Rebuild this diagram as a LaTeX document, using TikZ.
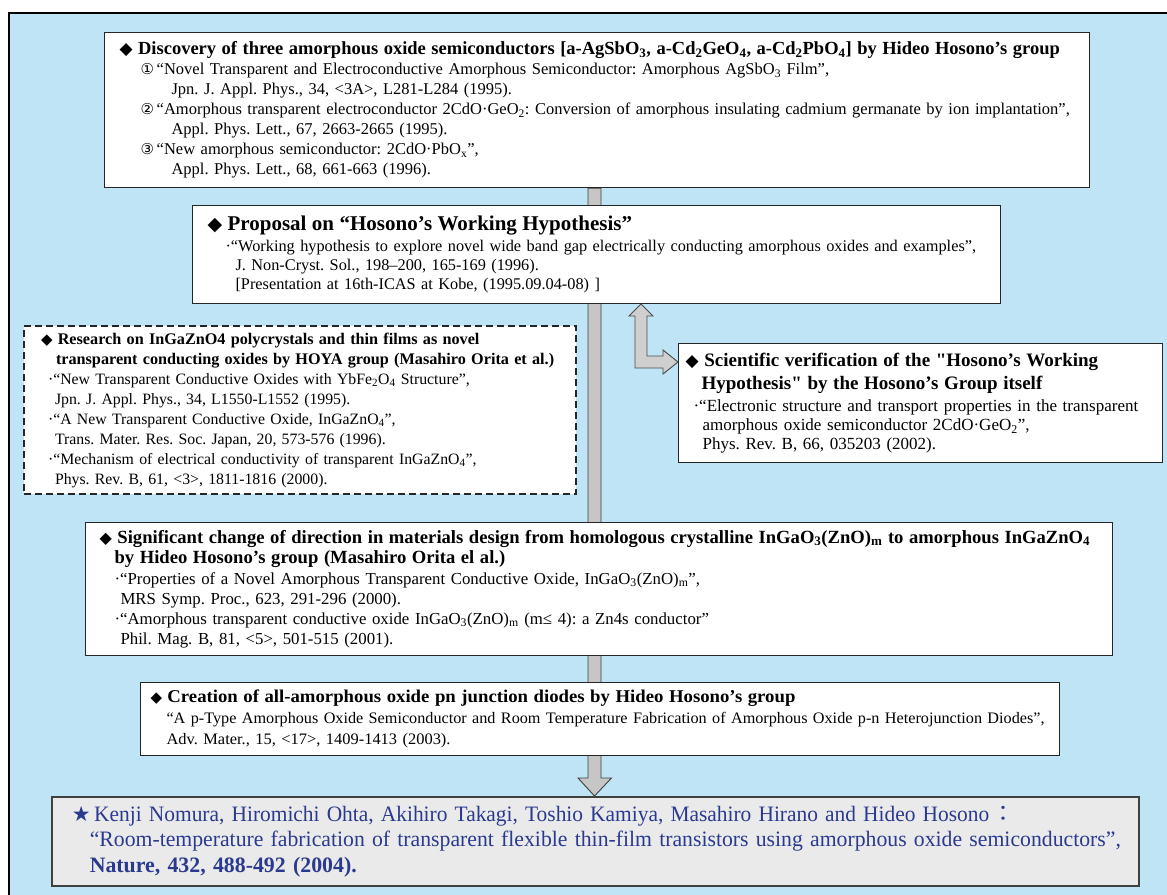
\documentclass[tikz,border=0pt]{standalone}
\usepackage{graphicx}
\usepackage{fontspec}
\setmainfont{Liberation Serif}
\newfontfamily\rawserif{Liberation Serif}[Ligatures=TeXOff]
\newfontfamily\symf{DejaVu Sans}
\newfontfamily\cjkf{Noto Sans CJK JP}
\usetikzlibrary{backgrounds,calc}
\definecolor{bgblue}{HTML}{BEE4F6}
\definecolor{bargray}{HTML}{C6C6C6}
\definecolor{navy}{HTML}{2A3A8F}
\definecolor{boxgray}{HTML}{EAEAEA}
\newcommand\sbs[1]{\textsubscript{#1}}
\newcommand\dm[1]{{\symf\fontsize{#1}{#1}\selectfont ◆}}
\newcommand\circn[1]{{\symf\fontsize{15}{15}\selectfont #1}}
\newcommand\fitw[2]{\resizebox{#1}{\height}{#2}}
\newcommand\sq{{\rawserif\bfseries "}}
\begin{document}
\frenchspacing
\begin{tikzpicture}[x=1pt,y=-1pt,
  card/.style={draw=black!85, line width=1.1pt, fill=white, anchor=north west, align=left, inner ysep=0pt},
  dashcard/.style={card, dash pattern=on 7pt off 4pt, line width=2pt},
  barsty/.style={fill=bargray, draw=black!75, line width=0.9pt},
  hollow/.style={fill=bargray!85, draw=black!70, line width=0.9pt, line join=miter}]
\useasboundingbox (0,0) rectangle (1167,894);

\node[card, minimum width=985pt, minimum height=155pt, text width=955pt, inner xsep=15pt, font=\fontsize{16.5}{20}\selectfont] (disc) at (104,32) {%
{\fontsize{18.5}{20}\selectfont\bfseries\dm{17} Discovery of three amorphous oxide semiconductors [a-AgSbO\sbs{3}, a-Cd\sbs{2}GeO\sbs{4}, a-Cd\sbs{2}PbO\sbs{4}] by Hideo Hosono’s group}\\
\hspace*{21pt}\circn{①}\,“Novel Transparent and Electroconductive Amorphous Semiconductor: Amorphous AgSbO\sbs{3} Film”,\\
\hspace*{52pt}Jpn. J. Appl. Phys., 34, <3A>, L281-L284 (1995).\\
\hspace*{21pt}\circn{②}\,“Amorphous transparent electroconductor 2CdO·GeO\sbs{2}: Conversion of amorphous insulating cadmium germanate by ion implantation”,\\
\hspace*{52pt}Appl. Phys. Lett., 67, 2663-2665 (1995).\\
\hspace*{21pt}\circn{③}\,“New amorphous semiconductor: 2CdO·PbO\sbs{x}”,\\
\hspace*{52pt}Appl. Phys. Lett., 68, 661-663 (1996).};

\node[card, minimum width=808pt, minimum height=98pt, text width=778pt, inner xsep=15pt, font=\fontsize{16.3}{19}\selectfont] (prop) at (192,205) {%
{\fontsize{21}{22}\selectfont\bfseries\dm{19} Proposal on “Hosono’s Working Hypothesis”}\\[2pt]
\hspace*{18pt}·“Working hypothesis to explore novel wide band gap electrically conducting amorphous oxides and examples”,\\
\hspace*{28pt}J. Non-Cryst. Sol., 198–200, 165-169 (1996).\\
\hspace*{28pt}[Presentation at 16th-ICAS at Kobe, (1995.09.04-08) ]};

\node[card, dashcard, minimum width=552pt, minimum height=168pt, text width=518pt, inner xsep=17pt, font=\fontsize{15.8}{20}\selectfont] (hoya) at (23,325) {%
{\bfseries\fontsize{16.2}{20}\selectfont\dm{15} Research on InGaZnO4 polycrystals and thin films as novel}\\
{\bfseries\fontsize{16.2}{20}\selectfont\hspace*{15pt}transparent conducting oxides by HOYA group (Masahiro Orita et al.)}\\
\hspace*{7pt}·“New Transparent Conductive Oxides with YbFe\sbs{2}O\sbs{4} Structure”,\\
\hspace*{14pt}Jpn. J. Appl. Phys., 34, L1550-L1552 (1995).\\
\hspace*{7pt}·“A New Transparent Conductive Oxide, InGaZnO\sbs{4}”,\\
\hspace*{14pt}Trans. Mater. Res. Soc. Japan, 20, 573-576 (1996).\\
\hspace*{7pt}·“Mechanism of electrical conductivity of transparent InGaZnO\sbs{4}”,\\
\hspace*{14pt}Phys. Rev. B, 61, <3>, 1811-1816 (2000).};

\node[card, minimum width=484pt, minimum height=119pt, text width=470pt, inner xsep=7pt, font=\fontsize{17}{19}\selectfont] (verif) at (678,343) {%
{\bfseries\fontsize{19}{23}\selectfont\dm{17} Scientific verification of the \sq Hosono’s Working}\\[4pt]
{\bfseries\fontsize{19}{23}\selectfont\hspace*{16pt}Hypothesis\sq{} by the Hosono’s Group itself}\\[3pt]
\hspace*{8pt}·“Electronic structure and transport properties in the transparent\\
\hspace*{17pt}amorphous oxide semiconductor 2CdO·GeO\sbs{2}”,\\
\hspace*{17pt}Phys. Rev. B, 66, 035203 (2002).};

\node[card, minimum width=1027pt, minimum height=133pt, text width=999pt, inner xsep=14pt, font=\fontsize{16.8}{20}\selectfont] (sig) at (85,522) {%
{\bfseries\fontsize{18.6}{21}\selectfont\dm{16} Significant change of direction in materials design from homologous crystalline InGaO\sbs{3}(ZnO)\sbs{m} to amorphous InGaZnO\sbs{4}}\\
{\bfseries\fontsize{18.6}{21}\selectfont\hspace*{15pt}by Hideo Hosono’s group (Masahiro Orita el al.)}\\[1pt]
\hspace*{15pt}·“Properties of a Novel Amorphous Transparent Conductive Oxide, InGaO\sbs{3}(ZnO)\sbs{m}”,\\
\hspace*{21pt}MRS Symp. Proc., 623, 291-296 (2000).\\
\hspace*{15pt}·“Amorphous transparent conductive oxide InGaO\sbs{3}(ZnO)\sbs{m} (m≤ 4): a Zn4s conductor”\\
\hspace*{21pt}Phil. Mag. B, 81, <5>, 501-515 (2001).};

\node[card, minimum width=919pt, minimum height=73pt, text width=899pt, inner xsep=10pt, font=\fontsize{16}{21}\selectfont] (pn) at (140,682) {%
{\bfseries\fontsize{18}{21}\selectfont\dm{15} \fitw{628pt}{Creation of all-amorphous oxide pn junction diodes by Hideo Hosono’s group}}\\
\hspace*{16pt}\fitw{878pt}{“A p-Type Amorphous Oxide Semiconductor and Room Temperature Fabrication of Amorphous Oxide p-n Heterojunction Diodes”,}\\
\hspace*{16pt}\fitw{284pt}{Adv. Mater., 15, <17>, 1409-1413 (2003).}};

\node[card, fill=boxgray, draw=black!75, line width=1.5pt, minimum width=1087pt, minimum height=89pt, text width=1063pt, inner xsep=12pt, text=navy, font=\fontsize{22}{25.5}\selectfont] (res) at (51,796) {%
\hspace*{8pt}{\symf\fontsize{21}{21}\selectfont ★}\,\fitw{895pt}{Kenji Nomura, Hiromichi Ohta, Akihiro Takagi, Toshio Kamiya, Masahiro Hirano and Hideo Hosono}\,{\cjkf ：}\\
\hspace*{26pt}\fitw{1031pt}{“Room-temperature fabrication of transparent flexible thin-film transistors using amorphous oxide semiconductors”,}\\
\hspace*{26pt}\fitw{267pt}{\bfseries Nature, 432, 488-492 (2004).}};

\coordinate (bx) at (594.5,0);
\coordinate (upTip) at (641,304);
\coordinate (rtTip) at (678,362);

\begin{pgfonlayer}{background}
  \draw[line width=2pt, fill=bgblue] (9,13) rectangle (1185,910);
  \draw[barsty] ($(bx |- disc.south)+(-6.5,0)$) -- ($(bx |- res.north)+(-6.5,-18)$) -- ++(-10,0)
     -- (bx |- res.north) -- ($(bx |- res.north)+(17,-18)$) -- ++(-10.5,0)
     -- ($(bx |- disc.south)+(6.5,0)$) -- cycle;
\end{pgfonlayer}

\draw[hollow] (upTip) -- ++(12,12) -- ++(-6,0) |- ($(rtTip)+(-15,-6)$) -- ++(0,-6) -- (rtTip)
   -- ++(-15,12) -- ++(0,-6) -| ($(upTip)+(-6,12)$) -- ++(-6,0) -- cycle;
\end{tikzpicture}
\end{document}
